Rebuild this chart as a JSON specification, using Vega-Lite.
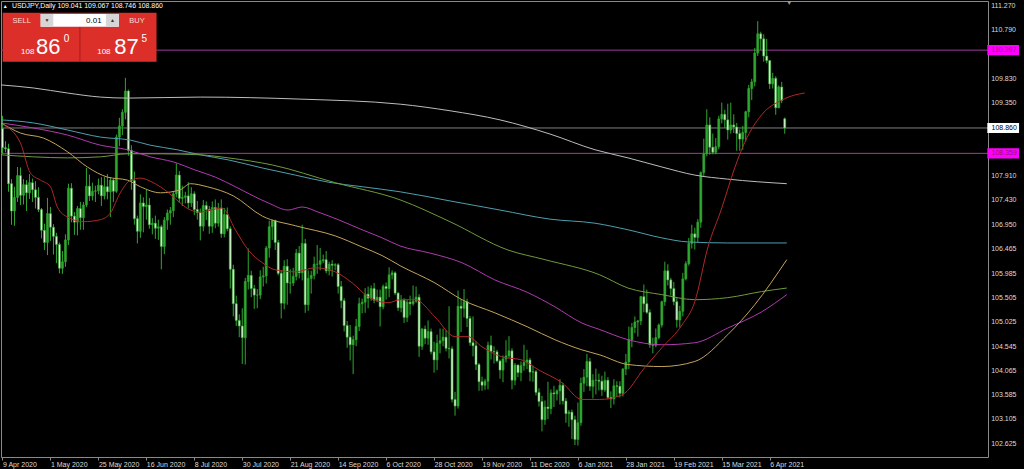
{
"$schema":"https://vega.github.io/schema/vega-lite/v6.json",
"width":987,"height":456,
"autosize":{"type":"none"},
"padding":{"left":1,"top":1,"right":36,"bottom":12},
"background":"#000000",
"config":{"view":{"stroke":"#8a8a8a","strokeWidth":1},"font":"Liberation Sans","axis":{"labelOverlap":false,"labelFlush":false,"grid":false}},
"datasets":{
"ohlc":[
{"i":0,"d":"2020-04-09","o":108.85,"h":109.10,"l":108.35,"c":108.47},
{"i":1,"d":"2020-04-10","o":108.47,"h":108.60,"l":108.38,"c":108.45},
{"i":2,"d":"2020-04-13","o":108.45,"h":108.55,"l":107.60,"c":107.76},
{"i":3,"d":"2020-04-14","o":107.76,"h":107.85,"l":106.95,"c":107.22},
{"i":4,"d":"2020-04-15","o":107.22,"h":107.70,"l":106.93,"c":107.49},
{"i":5,"d":"2020-04-16","o":107.49,"h":108.09,"l":107.40,"c":107.92},
{"i":6,"d":"2020-04-17","o":107.92,"h":108.08,"l":107.34,"c":107.53},
{"i":7,"d":"2020-04-20","o":107.53,"h":107.85,"l":107.35,"c":107.74},
{"i":8,"d":"2020-04-21","o":107.74,"h":107.83,"l":107.22,"c":107.58},
{"i":9,"d":"2020-04-22","o":107.58,"h":107.95,"l":107.46,"c":107.78},
{"i":10,"d":"2020-04-23","o":107.78,"h":107.86,"l":107.40,"c":107.64},
{"i":11,"d":"2020-04-24","o":107.64,"h":107.81,"l":107.27,"c":107.49},
{"i":12,"d":"2020-04-27","o":107.49,"h":107.69,"l":107.20,"c":107.25},
{"i":13,"d":"2020-04-28","o":107.25,"h":107.28,"l":106.68,"c":106.84},
{"i":14,"d":"2020-04-29","o":106.84,"h":106.97,"l":106.45,"c":106.60},
{"i":15,"d":"2020-04-30","o":106.60,"h":107.48,"l":106.35,"c":107.17},
{"i":16,"d":"2020-05-01","o":107.17,"h":107.30,"l":106.63,"c":106.90},
{"i":17,"d":"2020-05-04","o":106.90,"h":106.96,"l":106.36,"c":106.72},
{"i":18,"d":"2020-05-05","o":106.72,"h":106.79,"l":106.19,"c":106.56},
{"i":19,"d":"2020-05-06","o":106.56,"h":106.60,"l":105.99,"c":106.09},
{"i":20,"d":"2020-05-07","o":106.09,"h":106.43,"l":105.98,"c":106.22},
{"i":21,"d":"2020-05-08","o":106.22,"h":106.76,"l":106.12,"c":106.65},
{"i":22,"d":"2020-05-11","o":106.65,"h":107.76,"l":106.55,"c":107.67},
{"i":23,"d":"2020-05-12","o":107.67,"h":107.77,"l":107.00,"c":107.12},
{"i":24,"d":"2020-05-13","o":107.12,"h":107.20,"l":106.75,"c":107.00},
{"i":25,"d":"2020-05-14","o":107.00,"h":107.32,"l":106.74,"c":107.27},
{"i":26,"d":"2020-05-15","o":107.27,"h":107.40,"l":106.85,"c":107.09},
{"i":27,"d":"2020-05-18","o":107.09,"h":107.40,"l":106.85,"c":107.34},
{"i":28,"d":"2020-05-19","o":107.34,"h":108.07,"l":107.30,"c":107.71},
{"i":29,"d":"2020-05-20","o":107.71,"h":107.94,"l":107.42,"c":107.52},
{"i":30,"d":"2020-05-21","o":107.52,"h":107.78,"l":107.43,"c":107.61},
{"i":31,"d":"2020-05-22","o":107.61,"h":107.72,"l":107.40,"c":107.62},
{"i":32,"d":"2020-05-25","o":107.62,"h":107.86,"l":107.55,"c":107.73},
{"i":33,"d":"2020-05-26","o":107.73,"h":107.89,"l":107.32,"c":107.52},
{"i":34,"d":"2020-05-27","o":107.52,"h":107.89,"l":107.45,"c":107.70},
{"i":35,"d":"2020-05-28","o":107.70,"h":107.95,"l":107.45,"c":107.60},
{"i":36,"d":"2020-05-29","o":107.60,"h":107.89,"l":107.10,"c":107.83},
{"i":37,"d":"2020-06-01","o":107.83,"h":107.86,"l":107.40,"c":107.61},
{"i":38,"d":"2020-06-02","o":107.61,"h":108.73,"l":107.58,"c":108.68},
{"i":39,"d":"2020-06-03","o":108.68,"h":109.06,"l":108.50,"c":108.90},
{"i":40,"d":"2020-06-04","o":108.90,"h":109.23,"l":108.72,"c":109.17},
{"i":41,"d":"2020-06-05","o":109.17,"h":109.85,"l":109.03,"c":109.59},
{"i":42,"d":"2020-06-08","o":109.59,"h":109.62,"l":108.31,"c":108.42},
{"i":43,"d":"2020-06-09","o":108.42,"h":108.52,"l":107.64,"c":107.82},
{"i":44,"d":"2020-06-10","o":107.82,"h":108.00,"l":106.95,"c":107.07},
{"i":45,"d":"2020-06-11","o":107.07,"h":107.13,"l":106.58,"c":106.82},
{"i":46,"d":"2020-06-12","o":106.82,"h":107.55,"l":106.69,"c":107.38},
{"i":47,"d":"2020-06-15","o":107.38,"h":107.49,"l":106.80,"c":107.31},
{"i":48,"d":"2020-06-16","o":107.31,"h":107.64,"l":107.05,"c":107.34},
{"i":49,"d":"2020-06-17","o":107.34,"h":107.48,"l":106.87,"c":106.95},
{"i":50,"d":"2020-06-18","o":106.95,"h":107.08,"l":106.76,"c":106.98},
{"i":51,"d":"2020-06-19","o":106.98,"h":107.13,"l":106.67,"c":106.88},
{"i":52,"d":"2020-06-22","o":106.88,"h":107.05,"l":106.65,"c":106.91},
{"i":53,"d":"2020-06-23","o":106.91,"h":106.95,"l":106.07,"c":106.52},
{"i":54,"d":"2020-06-24","o":106.52,"h":107.10,"l":106.37,"c":107.04},
{"i":55,"d":"2020-06-25","o":107.04,"h":107.25,"l":106.85,"c":107.18},
{"i":56,"d":"2020-06-26","o":107.18,"h":107.30,"l":106.95,"c":107.23},
{"i":57,"d":"2020-06-29","o":107.23,"h":107.61,"l":107.10,"c":107.56},
{"i":58,"d":"2020-06-30","o":107.56,"h":108.16,"l":107.49,"c":107.93},
{"i":59,"d":"2020-07-01","o":107.93,"h":108.01,"l":107.38,"c":107.47},
{"i":60,"d":"2020-07-02","o":107.47,"h":107.72,"l":107.32,"c":107.49},
{"i":61,"d":"2020-07-03","o":107.49,"h":107.60,"l":107.37,"c":107.52},
{"i":62,"d":"2020-07-06","o":107.52,"h":107.79,"l":107.27,"c":107.38},
{"i":63,"d":"2020-07-07","o":107.38,"h":107.69,"l":107.30,"c":107.56},
{"i":64,"d":"2020-07-08","o":107.56,"h":107.61,"l":107.14,"c":107.25},
{"i":65,"d":"2020-07-09","o":107.25,"h":107.42,"l":107.05,"c":107.19},
{"i":66,"d":"2020-07-10","o":107.19,"h":107.27,"l":106.64,"c":106.92},
{"i":67,"d":"2020-07-13","o":106.92,"h":107.44,"l":106.82,"c":107.33},
{"i":68,"d":"2020-07-14","o":107.33,"h":107.41,"l":107.04,"c":107.25},
{"i":69,"d":"2020-07-15","o":107.25,"h":107.32,"l":106.77,"c":106.92},
{"i":70,"d":"2020-07-16","o":106.92,"h":107.41,"l":106.79,"c":107.29},
{"i":71,"d":"2020-07-17","o":107.29,"h":107.45,"l":106.88,"c":106.98},
{"i":72,"d":"2020-07-20","o":106.98,"h":107.38,"l":106.91,"c":107.28},
{"i":73,"d":"2020-07-21","o":107.28,"h":107.45,"l":106.69,"c":106.77},
{"i":74,"d":"2020-07-22","o":106.77,"h":107.28,"l":106.70,"c":107.15},
{"i":75,"d":"2020-07-23","o":107.15,"h":107.29,"l":106.82,"c":106.87},
{"i":76,"d":"2020-07-24","o":106.87,"h":106.92,"l":105.69,"c":106.07},
{"i":77,"d":"2020-07-27","o":106.07,"h":106.16,"l":105.14,"c":105.39},
{"i":78,"d":"2020-07-28","o":105.39,"h":105.55,"l":104.95,"c":105.06},
{"i":79,"d":"2020-07-29","o":105.06,"h":105.18,"l":104.73,"c":104.95},
{"i":80,"d":"2020-07-30","o":104.95,"h":105.30,"l":104.20,"c":104.72},
{"i":81,"d":"2020-07-31","o":104.72,"h":105.90,"l":104.19,"c":105.83},
{"i":82,"d":"2020-08-03","o":105.83,"h":106.48,"l":105.67,"c":105.95},
{"i":83,"d":"2020-08-04","o":105.95,"h":106.04,"l":105.52,"c":105.69},
{"i":84,"d":"2020-08-05","o":105.69,"h":105.76,"l":105.29,"c":105.56},
{"i":85,"d":"2020-08-06","o":105.56,"h":105.68,"l":105.30,"c":105.56},
{"i":86,"d":"2020-08-07","o":105.56,"h":106.05,"l":105.48,"c":105.92},
{"i":87,"d":"2020-08-10","o":105.92,"h":106.12,"l":105.73,"c":105.94},
{"i":88,"d":"2020-08-11","o":105.94,"h":106.53,"l":105.79,"c":106.49},
{"i":89,"d":"2020-08-12","o":106.49,"h":107.03,"l":106.30,"c":106.91},
{"i":90,"d":"2020-08-13","o":106.91,"h":107.05,"l":106.65,"c":107.03},
{"i":91,"d":"2020-08-14","o":107.03,"h":107.05,"l":106.45,"c":106.60},
{"i":92,"d":"2020-08-17","o":106.60,"h":106.65,"l":105.95,"c":105.99},
{"i":93,"d":"2020-08-18","o":105.99,"h":106.05,"l":105.10,"c":105.40},
{"i":94,"d":"2020-08-19","o":105.40,"h":106.25,"l":105.28,"c":106.13},
{"i":95,"d":"2020-08-20","o":106.13,"h":106.27,"l":105.37,"c":105.80},
{"i":96,"d":"2020-08-21","o":105.80,"h":106.07,"l":105.59,"c":105.80},
{"i":97,"d":"2020-08-24","o":105.80,"h":106.10,"l":105.74,"c":105.93},
{"i":98,"d":"2020-08-25","o":105.93,"h":106.47,"l":105.85,"c":106.39},
{"i":99,"d":"2020-08-26","o":106.39,"h":106.53,"l":105.89,"c":106.00},
{"i":100,"d":"2020-08-27","o":106.00,"h":106.95,"l":105.85,"c":106.58},
{"i":101,"d":"2020-08-28","o":106.58,"h":106.67,"l":105.21,"c":105.37},
{"i":102,"d":"2020-08-31","o":105.37,"h":106.05,"l":105.25,"c":105.89},
{"i":103,"d":"2020-09-01","o":105.89,"h":106.04,"l":105.59,"c":105.95},
{"i":104,"d":"2020-09-02","o":105.95,"h":106.32,"l":105.87,"c":106.17},
{"i":105,"d":"2020-09-03","o":106.17,"h":106.55,"l":105.98,"c":106.17},
{"i":106,"d":"2020-09-04","o":106.17,"h":106.49,"l":106.05,"c":106.24},
{"i":107,"d":"2020-09-07","o":106.24,"h":106.36,"l":106.19,"c":106.26},
{"i":108,"d":"2020-09-08","o":106.26,"h":106.43,"l":105.99,"c":106.04},
{"i":109,"d":"2020-09-09","o":106.04,"h":106.22,"l":105.95,"c":106.17},
{"i":110,"d":"2020-09-10","o":106.17,"h":106.25,"l":105.93,"c":106.15},
{"i":111,"d":"2020-09-11","o":106.15,"h":106.19,"l":106.05,"c":106.16},
{"i":112,"d":"2020-09-14","o":106.16,"h":106.19,"l":105.59,"c":105.73},
{"i":113,"d":"2020-09-15","o":105.73,"h":105.84,"l":105.30,"c":105.45},
{"i":114,"d":"2020-09-16","o":105.45,"h":105.50,"l":104.84,"c":104.96},
{"i":115,"d":"2020-09-17","o":104.96,"h":105.05,"l":104.52,"c":104.73},
{"i":116,"d":"2020-09-18","o":104.73,"h":104.97,"l":104.27,"c":104.58},
{"i":117,"d":"2020-09-21","o":104.58,"h":104.76,"l":104.00,"c":104.68},
{"i":118,"d":"2020-09-22","o":104.68,"h":105.09,"l":104.55,"c":104.94},
{"i":119,"d":"2020-09-23","o":104.94,"h":105.51,"l":104.85,"c":105.39},
{"i":120,"d":"2020-09-24","o":105.39,"h":105.49,"l":105.20,"c":105.42},
{"i":121,"d":"2020-09-25","o":105.42,"h":105.70,"l":105.21,"c":105.58},
{"i":122,"d":"2020-09-28","o":105.58,"h":105.73,"l":105.30,"c":105.50},
{"i":123,"d":"2020-09-29","o":105.50,"h":105.75,"l":105.45,"c":105.69},
{"i":124,"d":"2020-09-30","o":105.69,"h":105.80,"l":105.40,"c":105.46},
{"i":125,"d":"2020-10-01","o":105.46,"h":105.67,"l":105.42,"c":105.52},
{"i":126,"d":"2020-10-02","o":105.52,"h":105.67,"l":104.94,"c":105.33},
{"i":127,"d":"2020-10-05","o":105.33,"h":105.77,"l":105.28,"c":105.73},
{"i":128,"d":"2020-10-06","o":105.73,"h":105.81,"l":105.47,"c":105.69},
{"i":129,"d":"2020-10-07","o":105.69,"h":106.11,"l":105.52,"c":105.96},
{"i":130,"d":"2020-10-08","o":105.96,"h":106.05,"l":105.87,"c":106.00},
{"i":131,"d":"2020-10-09","o":106.00,"h":106.03,"l":105.56,"c":105.60},
{"i":132,"d":"2020-10-12","o":105.60,"h":105.62,"l":105.25,"c":105.31},
{"i":133,"d":"2020-10-13","o":105.31,"h":105.56,"l":105.22,"c":105.46},
{"i":134,"d":"2020-10-14","o":105.46,"h":105.50,"l":105.01,"c":105.12},
{"i":135,"d":"2020-10-15","o":105.12,"h":105.47,"l":105.03,"c":105.42},
{"i":136,"d":"2020-10-16","o":105.42,"h":105.55,"l":105.16,"c":105.39},
{"i":137,"d":"2020-10-19","o":105.39,"h":105.75,"l":105.35,"c":105.44},
{"i":138,"d":"2020-10-20","o":105.44,"h":105.73,"l":105.41,"c":105.52},
{"i":139,"d":"2020-10-21","o":105.52,"h":105.58,"l":104.34,"c":104.55},
{"i":140,"d":"2020-10-22","o":104.55,"h":104.91,"l":104.48,"c":104.89},
{"i":141,"d":"2020-10-23","o":104.89,"h":104.96,"l":104.59,"c":104.71},
{"i":142,"d":"2020-10-26","o":104.71,"h":105.06,"l":104.58,"c":104.84},
{"i":143,"d":"2020-10-27","o":104.84,"h":104.90,"l":104.39,"c":104.44},
{"i":144,"d":"2020-10-28","o":104.44,"h":104.64,"l":104.03,"c":104.28},
{"i":145,"d":"2020-10-29","o":104.28,"h":104.78,"l":104.08,"c":104.61},
{"i":146,"d":"2020-10-30","o":104.61,"h":104.90,"l":104.41,"c":104.66},
{"i":147,"d":"2020-11-02","o":104.66,"h":104.90,"l":104.55,"c":104.73},
{"i":148,"d":"2020-11-03","o":104.73,"h":104.87,"l":104.45,"c":104.51},
{"i":149,"d":"2020-11-04","o":104.51,"h":105.34,"l":104.31,"c":104.50},
{"i":150,"d":"2020-11-05","o":104.50,"h":104.55,"l":103.44,"c":103.50},
{"i":151,"d":"2020-11-06","o":103.50,"h":103.65,"l":103.18,"c":103.37},
{"i":152,"d":"2020-11-09","o":103.37,"h":105.65,"l":103.32,"c":105.34},
{"i":153,"d":"2020-11-10","o":105.34,"h":105.48,"l":104.83,"c":105.30},
{"i":154,"d":"2020-11-11","o":105.30,"h":105.68,"l":105.12,"c":105.43},
{"i":155,"d":"2020-11-12","o":105.43,"h":105.49,"l":104.93,"c":105.10},
{"i":156,"d":"2020-11-13","o":105.10,"h":105.15,"l":104.56,"c":104.62},
{"i":157,"d":"2020-11-16","o":104.62,"h":105.14,"l":104.35,"c":104.56},
{"i":158,"d":"2020-11-17","o":104.56,"h":104.65,"l":104.08,"c":104.19},
{"i":159,"d":"2020-11-18","o":104.19,"h":104.22,"l":103.67,"c":103.85},
{"i":160,"d":"2020-11-19","o":103.85,"h":103.95,"l":103.67,"c":103.78},
{"i":161,"d":"2020-11-20","o":103.78,"h":103.91,"l":103.69,"c":103.86},
{"i":162,"d":"2020-11-23","o":103.86,"h":104.64,"l":103.70,"c":104.57},
{"i":163,"d":"2020-11-24","o":104.57,"h":104.76,"l":104.29,"c":104.45},
{"i":164,"d":"2020-11-25","o":104.45,"h":104.55,"l":104.21,"c":104.44},
{"i":165,"d":"2020-11-26","o":104.44,"h":104.48,"l":104.23,"c":104.26},
{"i":166,"d":"2020-11-27","o":104.26,"h":104.29,"l":103.91,"c":104.08},
{"i":167,"d":"2020-11-30","o":104.08,"h":104.37,"l":103.84,"c":104.30},
{"i":168,"d":"2020-12-01","o":104.30,"h":104.67,"l":104.23,"c":104.36},
{"i":169,"d":"2020-12-02","o":104.36,"h":104.75,"l":104.32,"c":104.46},
{"i":170,"d":"2020-12-03","o":104.46,"h":104.51,"l":103.70,"c":103.88},
{"i":171,"d":"2020-12-04","o":103.88,"h":104.22,"l":103.78,"c":104.18},
{"i":172,"d":"2020-12-07","o":104.18,"h":104.19,"l":103.94,"c":104.03},
{"i":173,"d":"2020-12-08","o":104.03,"h":104.25,"l":103.86,"c":104.17},
{"i":174,"d":"2020-12-09","o":104.17,"h":104.58,"l":104.07,"c":104.23},
{"i":175,"d":"2020-12-10","o":104.23,"h":104.48,"l":104.10,"c":104.28},
{"i":176,"d":"2020-12-11","o":104.28,"h":104.32,"l":103.86,"c":104.04},
{"i":177,"d":"2020-12-14","o":104.04,"h":104.17,"l":103.85,"c":104.05},
{"i":178,"d":"2020-12-15","o":104.05,"h":104.08,"l":103.58,"c":103.64},
{"i":179,"d":"2020-12-16","o":103.64,"h":103.72,"l":103.36,"c":103.46},
{"i":180,"d":"2020-12-17","o":103.46,"h":103.57,"l":102.87,"c":103.10},
{"i":181,"d":"2020-12-18","o":103.10,"h":103.48,"l":103.00,"c":103.35},
{"i":182,"d":"2020-12-21","o":103.35,"h":103.85,"l":103.11,"c":103.32},
{"i":183,"d":"2020-12-22","o":103.32,"h":103.70,"l":103.21,"c":103.63},
{"i":184,"d":"2020-12-23","o":103.63,"h":103.77,"l":103.35,"c":103.61},
{"i":185,"d":"2020-12-24","o":103.61,"h":103.70,"l":103.48,"c":103.67},
{"i":186,"d":"2020-12-28","o":103.67,"h":103.90,"l":103.40,"c":103.78},
{"i":187,"d":"2020-12-29","o":103.78,"h":103.83,"l":103.40,"c":103.47},
{"i":188,"d":"2020-12-30","o":103.47,"h":103.53,"l":103.04,"c":103.22},
{"i":189,"d":"2020-12-31","o":103.22,"h":103.29,"l":102.96,"c":103.25},
{"i":190,"d":"2021-01-04","o":103.25,"h":103.30,"l":102.72,"c":103.10},
{"i":191,"d":"2021-01-05","o":103.10,"h":103.18,"l":102.60,"c":102.71},
{"i":192,"d":"2021-01-06","o":102.71,"h":103.44,"l":102.59,"c":103.04},
{"i":193,"d":"2021-01-07","o":103.04,"h":103.93,"l":102.98,"c":103.82},
{"i":194,"d":"2021-01-08","o":103.82,"h":104.10,"l":103.65,"c":103.94},
{"i":195,"d":"2021-01-11","o":103.94,"h":104.40,"l":103.76,"c":104.25},
{"i":196,"d":"2021-01-12","o":104.25,"h":104.32,"l":103.67,"c":103.76},
{"i":197,"d":"2021-01-13","o":103.76,"h":104.00,"l":103.52,"c":103.88},
{"i":198,"d":"2021-01-14","o":103.88,"h":104.11,"l":103.60,"c":103.88},
{"i":199,"d":"2021-01-15","o":103.88,"h":104.01,"l":103.68,"c":103.86},
{"i":200,"d":"2021-01-18","o":103.86,"h":103.97,"l":103.57,"c":103.69},
{"i":201,"d":"2021-01-19","o":103.69,"h":104.05,"l":103.65,"c":103.88},
{"i":202,"d":"2021-01-20","o":103.88,"h":103.94,"l":103.50,"c":103.54},
{"i":203,"d":"2021-01-21","o":103.54,"h":103.66,"l":103.33,"c":103.51},
{"i":204,"d":"2021-01-22","o":103.51,"h":103.90,"l":103.40,"c":103.77},
{"i":205,"d":"2021-01-25","o":103.77,"h":103.86,"l":103.55,"c":103.76},
{"i":206,"d":"2021-01-26","o":103.76,"h":103.86,"l":103.54,"c":103.62},
{"i":207,"d":"2021-01-27","o":103.62,"h":104.12,"l":103.56,"c":104.10},
{"i":208,"d":"2021-01-28","o":104.10,"h":104.40,"l":103.98,"c":104.24},
{"i":209,"d":"2021-01-29","o":104.24,"h":104.94,"l":104.10,"c":104.68},
{"i":210,"d":"2021-02-01","o":104.68,"h":105.01,"l":104.53,"c":104.92},
{"i":211,"d":"2021-02-02","o":104.92,"h":105.14,"l":104.81,"c":105.03},
{"i":212,"d":"2021-02-03","o":105.03,"h":105.07,"l":104.74,"c":105.05},
{"i":213,"d":"2021-02-04","o":105.05,"h":105.54,"l":104.97,"c":105.53},
{"i":214,"d":"2021-02-05","o":105.53,"h":105.77,"l":105.22,"c":105.39},
{"i":215,"d":"2021-02-08","o":105.39,"h":105.67,"l":105.19,"c":105.22},
{"i":216,"d":"2021-02-09","o":105.22,"h":105.28,"l":104.52,"c":104.58},
{"i":217,"d":"2021-02-10","o":104.58,"h":104.72,"l":104.41,"c":104.57},
{"i":218,"d":"2021-02-11","o":104.57,"h":104.90,"l":104.53,"c":104.72},
{"i":219,"d":"2021-02-12","o":104.72,"h":105.00,"l":104.69,"c":104.97},
{"i":220,"d":"2021-02-15","o":104.97,"h":105.45,"l":104.92,"c":105.43},
{"i":221,"d":"2021-02-16","o":105.43,"h":106.22,"l":105.35,"c":106.04},
{"i":222,"d":"2021-02-17","o":106.04,"h":106.17,"l":105.75,"c":105.86},
{"i":223,"d":"2021-02-18","o":105.86,"h":105.90,"l":105.55,"c":105.69},
{"i":224,"d":"2021-02-19","o":105.69,"h":105.82,"l":105.36,"c":105.43},
{"i":225,"d":"2021-02-22","o":105.43,"h":105.50,"l":104.92,"c":105.07},
{"i":226,"d":"2021-02-23","o":105.07,"h":105.35,"l":104.92,"c":105.24},
{"i":227,"d":"2021-02-24","o":105.24,"h":106.00,"l":105.14,"c":105.88},
{"i":228,"d":"2021-02-25","o":105.88,"h":106.23,"l":105.85,"c":106.18},
{"i":229,"d":"2021-02-26","o":106.18,"h":106.69,"l":106.14,"c":106.58},
{"i":230,"d":"2021-03-01","o":106.58,"h":106.95,"l":106.48,"c":106.77},
{"i":231,"d":"2021-03-02","o":106.77,"h":106.89,"l":106.46,"c":106.70},
{"i":232,"d":"2021-03-03","o":106.70,"h":107.06,"l":106.60,"c":107.00},
{"i":233,"d":"2021-03-04","o":107.00,"h":108.00,"l":106.89,"c":107.98},
{"i":234,"d":"2021-03-05","o":107.98,"h":108.65,"l":107.90,"c":108.35},
{"i":235,"d":"2021-03-08","o":108.35,"h":109.23,"l":108.30,"c":108.92},
{"i":236,"d":"2021-03-09","o":108.92,"h":109.07,"l":108.33,"c":108.48},
{"i":237,"d":"2021-03-10","o":108.48,"h":108.75,"l":108.34,"c":108.38},
{"i":238,"d":"2021-03-11","o":108.38,"h":108.66,"l":108.34,"c":108.49},
{"i":239,"d":"2021-03-12","o":108.49,"h":109.10,"l":108.44,"c":109.04},
{"i":240,"d":"2021-03-15","o":109.04,"h":109.36,"l":108.95,"c":109.13},
{"i":241,"d":"2021-03-16","o":109.13,"h":109.22,"l":108.86,"c":109.02},
{"i":242,"d":"2021-03-17","o":109.02,"h":109.34,"l":108.63,"c":108.82},
{"i":243,"d":"2021-03-18","o":108.82,"h":109.36,"l":108.75,"c":108.92},
{"i":244,"d":"2021-03-19","o":108.92,"h":109.13,"l":108.76,"c":108.88},
{"i":245,"d":"2021-03-22","o":108.88,"h":108.96,"l":108.41,"c":108.75},
{"i":246,"d":"2021-03-23","o":108.75,"h":108.83,"l":108.41,"c":108.64},
{"i":247,"d":"2021-03-24","o":108.64,"h":108.90,"l":108.43,"c":108.77},
{"i":248,"d":"2021-03-25","o":108.77,"h":109.20,"l":108.59,"c":109.18},
{"i":249,"d":"2021-03-26","o":109.18,"h":109.71,"l":109.07,"c":109.64},
{"i":250,"d":"2021-03-29","o":109.64,"h":109.83,"l":109.41,"c":109.77},
{"i":251,"d":"2021-03-30","o":109.77,"h":110.44,"l":109.68,"c":110.34},
{"i":252,"d":"2021-03-31","o":110.34,"h":110.97,"l":110.28,"c":110.72},
{"i":253,"d":"2021-04-01","o":110.72,"h":110.76,"l":110.40,"c":110.62},
{"i":254,"d":"2021-04-02","o":110.62,"h":110.71,"l":110.17,"c":110.28},
{"i":255,"d":"2021-04-05","o":110.28,"h":110.62,"l":110.14,"c":110.19},
{"i":256,"d":"2021-04-06","o":110.19,"h":110.20,"l":109.63,"c":109.73},
{"i":257,"d":"2021-04-07","o":109.73,"h":109.95,"l":109.64,"c":109.84},
{"i":258,"d":"2021-04-08","o":109.84,"h":109.88,"l":109.12,"c":109.26},
{"i":259,"d":"2021-04-09","o":109.26,"h":109.70,"l":109.25,"c":109.67},
{"i":260,"d":"2021-04-12","o":109.67,"h":109.77,"l":109.35,"c":109.40},
{"i":261,"d":"2021-04-13","o":109.041,"h":109.067,"l":108.746,"c":108.860}
],
"ma":[
{"s":"gray","i":-0.5,"p":109.71},{"s":"gray","i":10.3,"p":109.65},{"s":"gray","i":21.7,"p":109.55},{"s":"gray","i":32.7,"p":109.47},{"s":"gray","i":41.7,"p":109.45},{"s":"gray","i":66,"p":109.47},{"s":"gray","i":99.3,"p":109.43},{"s":"gray","i":132.7,"p":109.33},{"s":"gray","i":149.3,"p":109.2},{"s":"gray","i":166,"p":109.02},{"s":"gray","i":182.7,"p":108.74},{"s":"gray","i":197.7,"p":108.43},{"s":"gray","i":208.7,"p":108.27},{"s":"gray","i":220,"p":108.09},{"s":"gray","i":231,"p":107.93},{"s":"gray","i":242,"p":107.85},{"s":"gray","i":261.7,"p":107.76},
{"s":"cyan","i":-0.5,"p":109.02},{"s":"cyan","i":10.3,"p":108.96},{"s":"cyan","i":21.7,"p":108.82},{"s":"cyan","i":32.7,"p":108.68},{"s":"cyan","i":42.7,"p":108.62},{"s":"cyan","i":49.3,"p":108.52},{"s":"cyan","i":58.3,"p":108.43},{"s":"cyan","i":66,"p":108.33},{"s":"cyan","i":75.3,"p":108.23},{"s":"cyan","i":86.7,"p":108.07},{"s":"cyan","i":97.7,"p":107.93},{"s":"cyan","i":108.7,"p":107.79},{"s":"cyan","i":120,"p":107.7},{"s":"cyan","i":132.7,"p":107.6},{"s":"cyan","i":149.3,"p":107.42},{"s":"cyan","i":166,"p":107.24},{"s":"cyan","i":182.7,"p":107.06},{"s":"cyan","i":197.7,"p":106.98},{"s":"cyan","i":208.7,"p":106.85},{"s":"cyan","i":220,"p":106.69},{"s":"cyan","i":228.7,"p":106.61},{"s":"cyan","i":242,"p":106.59},{"s":"cyan","i":261.7,"p":106.59},
{"s":"green","i":-0.5,"p":108.33},{"s":"green","i":10.3,"p":108.29},{"s":"green","i":21.7,"p":108.27},{"s":"green","i":32.7,"p":108.29},{"s":"green","i":41.7,"p":108.35},{"s":"green","i":52.7,"p":108.35},{"s":"green","i":66,"p":108.33},{"s":"green","i":75.3,"p":108.27},{"s":"green","i":90,"p":108.13},{"s":"green","i":111,"p":107.78},{"s":"green","i":132.7,"p":107.44},{"s":"green","i":149.3,"p":107.01},{"s":"green","i":168.7,"p":106.45},{"s":"green","i":181,"p":106.26},{"s":"green","i":199.3,"p":105.96},{"s":"green","i":208.7,"p":105.7},{"s":"green","i":220,"p":105.57},{"s":"green","i":231,"p":105.47},{"s":"green","i":242,"p":105.51},{"s":"green","i":253.3,"p":105.63},{"s":"green","i":261.7,"p":105.7},
{"s":"magenta","i":-0.5,"p":108.96},{"s":"magenta","i":10.3,"p":108.86},{"s":"magenta","i":21.7,"p":108.72},{"s":"magenta","i":32.7,"p":108.52},{"s":"magenta","i":41.7,"p":108.43},{"s":"magenta","i":49.3,"p":108.29},{"s":"magenta","i":57,"p":108.19},{"s":"magenta","i":64.3,"p":108.03},{"s":"magenta","i":71,"p":107.89},{"s":"magenta","i":77.7,"p":107.7},{"s":"magenta","i":84.3,"p":107.5},{"s":"magenta","i":88.7,"p":107.38},{"s":"magenta","i":95.3,"p":107.24},{"s":"magenta","i":100,"p":107.3},{"s":"magenta","i":105.3,"p":107.2},{"s":"magenta","i":112,"p":107.05},{"s":"magenta","i":120,"p":106.85},{"s":"magenta","i":126.7,"p":106.69},{"s":"magenta","i":132.7,"p":106.53},{"s":"magenta","i":142.7,"p":106.39},{"s":"magenta","i":153.3,"p":106.2},{"s":"magenta","i":164.3,"p":105.86},{"s":"magenta","i":175.3,"p":105.61},{"s":"magenta","i":184.3,"p":105.33},{"s":"magenta","i":193.3,"p":105.01},{"s":"magenta","i":199.3,"p":104.88},{"s":"magenta","i":208.7,"p":104.68},{"s":"magenta","i":220,"p":104.58},{"s":"magenta","i":231,"p":104.62},{"s":"magenta","i":242,"p":104.91},{"s":"magenta","i":253.3,"p":105.23},{"s":"magenta","i":261.7,"p":105.57},
{"s":"yellow","i":-0.5,"p":108.96},{"s":"yellow","i":6,"p":108.76},{"s":"yellow","i":13.7,"p":108.66},{"s":"yellow","i":21.7,"p":108.39},{"s":"yellow","i":28.3,"p":108.09},{"s":"yellow","i":35,"p":107.89},{"s":"yellow","i":41.7,"p":107.83},{"s":"yellow","i":46,"p":107.7},{"s":"yellow","i":52.7,"p":107.58},{"s":"yellow","i":59.3,"p":107.64},{"s":"yellow","i":62.7,"p":107.76},{"s":"yellow","i":68.3,"p":107.7},{"s":"yellow","i":77,"p":107.52},{"s":"yellow","i":86.7,"p":107.12},{"s":"yellow","i":97.7,"p":106.93},{"s":"yellow","i":111,"p":106.73},{"s":"yellow","i":120,"p":106.51},{"s":"yellow","i":126.7,"p":106.34},{"s":"yellow","i":132.7,"p":106.14},{"s":"yellow","i":144.3,"p":105.8},{"s":"yellow","i":153.3,"p":105.47},{"s":"yellow","i":164.3,"p":105.21},{"s":"yellow","i":175.3,"p":104.93},{"s":"yellow","i":184.3,"p":104.68},{"s":"yellow","i":193.3,"p":104.48},{"s":"yellow","i":199.3,"p":104.38},{"s":"yellow","i":208.7,"p":104.19},{"s":"yellow","i":220,"p":104.15},{"s":"yellow","i":231,"p":104.25},{"s":"yellow","i":242,"p":104.78},{"s":"yellow","i":251,"p":105.37},{"s":"yellow","i":261.7,"p":106.26},
{"s":"red","i":0.3,"p":108.92},{"s":"red","i":6,"p":108.56},{"s":"red","i":9.3,"p":107.97},{"s":"red","i":12.7,"p":107.83},{"s":"red","i":16,"p":107.7},{"s":"red","i":18.3,"p":107.3},{"s":"red","i":21.7,"p":107.1},{"s":"red","i":27,"p":107.01},{"s":"red","i":32.7,"p":107.05},{"s":"red","i":36,"p":107.18},{"s":"red","i":39.3,"p":107.58},{"s":"red","i":42.7,"p":107.83},{"s":"red","i":46,"p":107.87},{"s":"red","i":50.3,"p":107.78},{"s":"red","i":55,"p":107.6},{"s":"red","i":59.3,"p":107.38},{"s":"red","i":62.7,"p":107.24},{"s":"red","i":66,"p":107.2},{"s":"red","i":73.3,"p":107.28},{"s":"red","i":77.7,"p":106.85},{"s":"red","i":82,"p":106.45},{"s":"red","i":86.7,"p":106.2},{"s":"red","i":91,"p":106.06},{"s":"red","i":97.7,"p":106.02},{"s":"red","i":104.3,"p":106.1},{"s":"red","i":111,"p":106.02},{"s":"red","i":116.7,"p":105.8},{"s":"red","i":122,"p":105.53},{"s":"red","i":128.7,"p":105.41},{"s":"red","i":132.7,"p":105.47},{"s":"red","i":137.7,"p":105.47},{"s":"red","i":144.3,"p":105.13},{"s":"red","i":151,"p":104.74},{"s":"red","i":155.3,"p":104.74},{"s":"red","i":160,"p":104.54},{"s":"red","i":166.7,"p":104.34},{"s":"red","i":173.3,"p":104.28},{"s":"red","i":178.7,"p":104.09},{"s":"red","i":186.7,"p":103.83},{"s":"red","i":193.3,"p":103.5},{"s":"red","i":199.3,"p":103.5},{"s":"red","i":206.7,"p":103.59},{"s":"red","i":214.3,"p":104.13},{"s":"red","i":220,"p":104.52},{"s":"red","i":226.7,"p":104.97},{"s":"red","i":231,"p":105.43},{"s":"red","i":235.3,"p":106.49},{"s":"red","i":240,"p":107.28},{"s":"red","i":244.3,"p":108.07},{"s":"red","i":247.7,"p":108.58},{"s":"red","i":253.3,"p":109.12},{"s":"red","i":260,"p":109.41},{"s":"red","i":264.3,"p":109.51},{"s":"red","i":267.7,"p":109.55}
],
"levels":[{"name":"resistance","p":110.397},{"name":"bid","p":108.86},{"name":"support","p":108.359}],
"yticks":[{"p":102.625},{"p":103.105},{"p":103.585},{"p":104.065},{"p":104.545},{"p":105.025},{"p":105.505},{"p":105.985},{"p":106.465},{"p":106.95},{"p":107.43},{"p":107.91},{"p":109.35},{"p":109.83},{"p":110.79},{"p":111.27}]
},
"layer":[
{"data":{"name":"levels"},"mark":{"type":"rule","strokeWidth":1},
 "encoding":{"y":{"field":"p","type":"quantitative","scale":{"domain":[102.364,111.367],"nice":false,"zero":false,"padding":0},
   "axis":{"orient":"right","title":null,"labels":false,"ticks":false,"domain":false,"grid":false}},
  "color":{"field":"name","type":"nominal","scale":{"domain":["resistance","bid","support"],"range":["#a03aa0","#7e7e7e","#a03aa0"]},"legend":null}}},
{"data":{"name":"ohlc"},"mark":{"type":"rule","color":"#2fa82f","strokeWidth":1},
 "encoding":{"x":{"field":"i","type":"quantitative","scale":{"domain":[-0.5,328.83],"nice":false,"zero":false,"padding":0},
   "axis":{"orient":"bottom","title":null,"values":[0,16,32,48,64,80,96,112,128,144,160,176,192,208,224,240,256],
   "labelExpr":"['9 Apr 2020','1 May 2020','25 May 2020','16 Jun 2020','8 Jul 2020','30 Jul 2020','21 Aug 2020','14 Sep 2020','6 Oct 2020','28 Oct 2020','19 Nov 2020','11 Dec 2020','6 Jan 2021','28 Jan 2021','19 Feb 2021','15 Mar 2021','6 Apr 2021'][round(datum.value/16)]",
   "labelAlign":"left","labelBaseline":"top","labelDx":-1,"labelPadding":0,"tickSize":3,"tickColor":"#8a8a8a","domain":false,"grid":false,"labelColor":"#dcdcdc","labelFontSize":7,"labelFont":"Liberation Sans","labelFlush":false,"labelOverlap":false,"labelBound":false}},
  "y":{"field":"l","type":"quantitative"},"y2":{"field":"h"}}},
{"data":{"name":"ohlc"},"mark":{"type":"bar","width":2,"stroke":"#2fa82f","strokeWidth":0.6},
 "encoding":{"x":{"field":"i","type":"quantitative"},"y":{"field":"o","type":"quantitative"},"y2":{"field":"c"},
  "fill":{"condition":{"test":"datum.c < datum.o","value":"#dff5d8"},"value":"#2fa82f"}}},
{"data":{"name":"ma"},"mark":{"type":"line","strokeWidth":1,"interpolate":"monotone"},
 "encoding":{"x":{"field":"i","type":"quantitative"},"y":{"field":"p","type":"quantitative"},
  "stroke":{"field":"s","type":"nominal","scale":{"domain":["gray","cyan","green","magenta","yellow","red"],"range":["#bdbdbd","#4e9fb0","#6f9a3c","#b03ab0","#c4a55a","#b02828"]},"legend":null},"detail":{"field":"s"}}},
{"data":{"name":"yticks"},"mark":{"type":"text","fontSize":7,"color":"#dcdcdc","align":"left","baseline":"middle","font":"Liberation Sans"},
 "encoding":{"x":{"datum":329.9},"y":{"field":"p","type":"quantitative"},"text":{"field":"p","type":"quantitative","format":".3f"}}},
{"data":{"values":[{}]},
 "layer":[
  {"mark":{"type":"rect","fill":"#dc2f2a"},"encoding":{"x":{"datum":0.07},"x2":{"datum":51.4},"y":{"datum":111.136},"y2":{"datum":110.169}}},
  {"mark":{"type":"rule","color":"#a81c18","strokeWidth":1},"encoding":{"x":{"datum":25.83},"y":{"datum":110.854},"y2":{"datum":110.169}}},
  {"mark":{"type":"rect","fill":"#ffffff"},"encoding":{"x":{"datum":12.73},"x2":{"datum":38.83},"y":{"datum":111.11},"y2":{"datum":110.86}}},
  {"mark":{"type":"rect","fill":"#d6d6d6"},"encoding":{"x":{"datum":12.73},"x2":{"datum":16.93},"y":{"datum":111.11},"y2":{"datum":110.86}}},
  {"mark":{"type":"rect","fill":"#d6d6d6"},"encoding":{"x":{"datum":34.5},"x2":{"datum":38.83},"y":{"datum":111.11},"y2":{"datum":110.86}}},
  {"mark":{"type":"text","fontSize":5,"color":"#333333","align":"center","baseline":"middle"},"encoding":{"x":{"datum":14.83},"y":{"datum":110.985},"text":{"value":"▼"}}},
  {"mark":{"type":"text","fontSize":5,"color":"#333333","align":"center","baseline":"middle"},"encoding":{"x":{"datum":36.67},"y":{"datum":110.985},"text":{"value":"▲"}}},
  {"mark":{"type":"text","fontSize":7.5,"color":"#f6dcdc","align":"center","baseline":"middle","font":"Liberation Sans"},"encoding":{"x":{"datum":6.4},"y":{"datum":110.979},"text":{"value":"SELL"}}},
  {"mark":{"type":"text","fontSize":8,"color":"#000000","align":"right","baseline":"middle","font":"Liberation Sans"},"encoding":{"x":{"datum":33.07},"y":{"datum":110.979},"text":{"value":"0.01"}}},
  {"mark":{"type":"text","fontSize":7.5,"color":"#f6dcdc","align":"center","baseline":"middle","font":"Liberation Sans"},"encoding":{"x":{"datum":44.9},"y":{"datum":110.979},"text":{"value":"BUY"}}},
  {"mark":{"type":"text","fontSize":8,"color":"#ffffff","align":"left","baseline":"alphabetic","font":"Liberation Sans"},"encoding":{"x":{"datum":6.17},"y":{"datum":110.33},"text":{"value":"108"}}},
  {"mark":{"type":"text","fontSize":22,"color":"#ffffff","align":"left","baseline":"alphabetic","font":"Liberation Sans"},"encoding":{"x":{"datum":11.2},"y":{"datum":110.33},"text":{"value":"86"}}},
  {"mark":{"type":"text","fontSize":10,"color":"#ffffff","align":"left","baseline":"alphabetic","font":"Liberation Sans"},"encoding":{"x":{"datum":20.4},"y":{"datum":110.56},"text":{"value":"0"}}},
  {"mark":{"type":"text","fontSize":8,"color":"#ffffff","align":"left","baseline":"alphabetic","font":"Liberation Sans"},"encoding":{"x":{"datum":31.6},"y":{"datum":110.33},"text":{"value":"108"}}},
  {"mark":{"type":"text","fontSize":22,"color":"#ffffff","align":"left","baseline":"alphabetic","font":"Liberation Sans"},"encoding":{"x":{"datum":37.3},"y":{"datum":110.33},"text":{"value":"87"}}},
  {"mark":{"type":"text","fontSize":10,"color":"#ffffff","align":"left","baseline":"alphabetic","font":"Liberation Sans"},"encoding":{"x":{"datum":46.4},"y":{"datum":110.56},"text":{"value":"5"}}},
  {"mark":{"type":"text","fontSize":5,"color":"#ffffff","align":"center","baseline":"middle"},"encoding":{"x":{"datum":0.9},"y":{"datum":111.269},"text":{"value":"▲"}}},
  {"mark":{"type":"text","fontSize":6.9,"color":"#ffffff","align":"left","baseline":"middle","font":"Liberation Sans"},"encoding":{"x":{"datum":3.17},"y":{"datum":111.269},"text":{"value":"USDJPY,Daily 109.041 109.067 108.746 108.860"}}},
  {"mark":{"type":"text","fontSize":7,"color":"#9a9a9a","align":"center","baseline":"middle"},"encoding":{"x":{"datum":262.5},"y":{"datum":111.33},"text":{"value":"▼"}}},
  {"mark":{"type":"rect","fill":"#ff00ff"},"encoding":{"x":{"datum":328.6},"x2":{"datum":339.2},"y":{"datum":110.297},"y2":{"datum":110.497}}},
  {"mark":{"type":"rect","fill":"#ffffff"},"encoding":{"x":{"datum":328.6},"x2":{"datum":339.2},"y":{"datum":108.76},"y2":{"datum":108.96}}},
  {"mark":{"type":"rect","fill":"#ff00ff"},"encoding":{"x":{"datum":328.6},"x2":{"datum":339.2},"y":{"datum":108.259},"y2":{"datum":108.459}}},
  {"mark":{"type":"text","fontSize":7,"color":"#a0105a","align":"left","baseline":"middle","font":"Liberation Sans"},"encoding":{"x":{"datum":330.0},"y":{"datum":110.397},"text":{"value":"110.397"}}},
  {"mark":{"type":"text","fontSize":7,"color":"#000000","align":"left","baseline":"middle","font":"Liberation Sans"},"encoding":{"x":{"datum":330.0},"y":{"datum":108.86},"text":{"value":"108.860"}}},
  {"mark":{"type":"text","fontSize":7,"color":"#a0105a","align":"left","baseline":"middle","font":"Liberation Sans"},"encoding":{"x":{"datum":330.0},"y":{"datum":108.359},"text":{"value":"108.359"}}}
 ]}
]
}
